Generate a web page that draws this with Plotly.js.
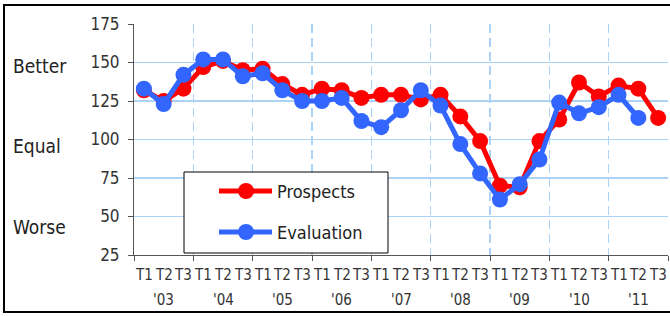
<!DOCTYPE html>
<html>
<head>
<meta charset="utf-8">
<script src="https://cdn.plot.ly/plotly-3.0.1.min.js"></script>
<style>
html,body{margin:0;padding:0;background:#fff;}
#chart{width:670px;height:316px;}
</style>
</head>
<body>
<div id="chart"></div>
<script>
const periods = ['T1', 'T2', 'T3'];
const years = ["'03", "'04", "'05", "'06", "'07", "'08", "'09", "'10", "'11"];
const prospects = [132, 125, 133, 147, 151, 145, 146, 136, 129, 133, 132, 127, 129, 129, 126, 129, 115, 99, 70, 69, 99, 113, 137, 128, 135, 133, 114];
const evaluation = [133, 123, 142, 152, 152, 141, 143, 132, 125, 125, 127, 112, 108, 119, 132, 122, 97, 78, 61, 71, 87, 124, 117, 121, 129, 114, null];
const sideLabels = ['Better', 'Equal', 'Worse'];
const sideLabelValues = [148, 96, 43];
const yTicks = [25, 50, 75, 100, 125, 150, 175];

const FONT = "'Liberation Sans Narrow', 'Arial Narrow', 'DejaVu Sans Condensed', sans-serif";
const RED = '#ff0000';
const BLUE = '#3366ff';
const GRID = '#acd3f6';

const n = prospects.length;
const xs = prospects.map((_, i) => i);
const xLabels = xs.map(i => periods[i % 3]);
const boundaries = [];
for (let k = 0; k <= years.length; k++) boundaries.push(k * 3 - 0.5);

// plot geometry (pixels) for legend placement
const L = 134, R = 668, T = 24, B = 255;
const px = X => (X - L) / (R - L);
const py = Y => (B - Y) / (B - T);

const traces = [
  {x: xs, y: prospects, name: 'Prospects', type: 'scatter', mode: 'lines+markers',
   line: {color: RED, width: 5}, marker: {color: RED, size: 16}, cliponaxis: false},
  {x: xs, y: evaluation, name: 'Evaluation', type: 'scatter', mode: 'lines+markers',
   line: {color: BLUE, width: 5}, marker: {color: BLUE, size: 16}, cliponaxis: false}
];

const annotations = [];
xs.forEach(i => annotations.push({
  x: i, y: 0, xref: 'x', yref: 'paper', text: xLabels[i], showarrow: false,
  yanchor: 'middle', xanchor: 'center', yshift: -20,
  font: {family: FONT, size: 15, color: '#333'}
}));
years.forEach((yr, k) => annotations.push({
  x: k * 3 + 1, y: 0, xref: 'x', yref: 'paper', text: yr, showarrow: false,
  yanchor: 'middle', xanchor: 'center', yshift: -45,
  font: {family: FONT, size: 15, color: '#333'}
}));
sideLabels.forEach((t, k) => annotations.push({
  x: 0, y: sideLabelValues[k], xref: 'paper', yref: 'y', text: t, showarrow: false,
  xanchor: 'left', yanchor: 'middle', xshift: -123,
  font: {family: FONT, size: 19, color: '#222'}
}));

// manual legend
const legendItems = [{name: 'Prospects', color: RED, Y: 191}, {name: 'Evaluation', color: BLUE, Y: 232}];
const shapes = [{
  type: 'rect', xref: 'paper', yref: 'paper', x0: px(184), x1: px(388), y0: py(253), y1: py(172),
  line: {color: '#000', width: 1}, fillcolor: '#fff', layer: 'above'
}];
legendItems.forEach(it => {
  shapes.push({type: 'line', xref: 'paper', yref: 'paper', x0: px(219), x1: px(272), y0: py(it.Y), y1: py(it.Y),
    line: {color: it.color, width: 5}, layer: 'above'});
  shapes.push({type: 'circle', xref: 'paper', yref: 'paper', xsizemode: 'pixel', ysizemode: 'pixel',
    xanchor: px(246), yanchor: py(it.Y), x0: -8, x1: 8, y0: -8, y1: 8,
    fillcolor: it.color, line: {color: it.color, width: 0}, layer: 'above'});
  annotations.push({x: px(275), y: py(it.Y), xref: 'paper', yref: 'paper', text: it.name, showarrow: false,
    xanchor: 'left', yanchor: 'middle', font: {family: FONT, size: 18, color: '#222'}});
});
// outer frame
shapes.push({type: 'rect', xref: 'paper', yref: 'paper', x0: px(4), x1: px(680), y0: py(312), y1: py(5),
  line: {color: '#000', width: 2}, layer: 'above'});

const layout = {
  width: 670, height: 316,
  margin: {l: L, r: 670 - R, t: T, b: 316 - B},
  paper_bgcolor: '#fff', plot_bgcolor: '#fff',
  showlegend: false,
  font: {family: FONT, color: '#333'},
  xaxis: {
    range: [-0.5, n - 0.5], tickvals: boundaries, ticktext: boundaries.map(() => ''),
    showgrid: true, gridcolor: GRID, griddash: '9px,5px', gridwidth: 1.5,
    ticks: 'outside', ticklen: 5, tickcolor: '#555',
    showline: true, linecolor: '#555', linewidth: 1, zeroline: false, fixedrange: true
  },
  yaxis: {
    range: [25, 175], tickvals: yTicks,
    showgrid: true, gridcolor: GRID, gridwidth: 1.2,
    ticks: 'outside', ticklen: 5, tickcolor: '#555', ticklabelstandoff: 5,
    showline: true, linecolor: '#555', linewidth: 1, zeroline: false,
    tickfont: {family: FONT, size: 17, color: '#333'}, fixedrange: true
  },
  annotations: annotations,
  shapes: shapes
};

Plotly.newPlot('chart', traces, layout, {displayModeBar: false, staticPlot: true});
</script>
</body>
</html>
